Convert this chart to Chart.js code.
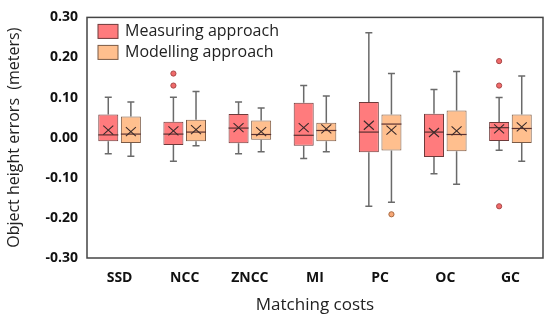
<!DOCTYPE html>
<html>
<head>
<meta charset="utf-8">
<script src="https://cdn.jsdelivr.net/npm/chart.js@4"></script>
<style>
  html, body { margin: 0; padding: 0; background: #fff; }
  #wrap { width: 550px; height: 322px; }
</style>
</head>
<body>
<div id="wrap"><canvas id="myChart" width="550" height="322"></canvas></div>
<script>
// matching costs on the x axis
var categories = ['SSD', 'NCC', 'ZNCC', 'MI', 'PC', 'OC', 'GC'];

// measuring approach (red)
var measMin    = [-0.040, -0.059, -0.040, -0.052, -0.171, -0.090, -0.031];
var measQ1     = [-0.009, -0.018, -0.014, -0.020, -0.036, -0.048, -0.008];
var measMedian = [ 0.007,  0.009,  0.024,  0.006,  0.014,  0.014,  0.025];
var measQ3     = [ 0.058,  0.040,  0.059,  0.087,  0.089,  0.060,  0.039];
var measMax    = [ 0.101,  0.101,  0.089,  0.130,  0.262,  0.120,  0.100];
var measMean   = [ 0.019,  0.017,  0.025,  0.025,  0.031,  0.013,  0.022];
var measOutliers = [[], [0.160, 0.130], [], [], [], [], [0.191, 0.130, -0.171]];

// modelling approach (orange)
var modMin    = [-0.046, -0.020, -0.035, -0.035, -0.161, -0.116, -0.059];
var modQ1     = [-0.013, -0.009, -0.005, -0.009, -0.032, -0.034, -0.013];
var modMedian = [ 0.009,  0.014,  0.008,  0.018,  0.034,  0.008,  0.023];
var modQ3     = [ 0.053,  0.045,  0.043,  0.037,  0.058,  0.068,  0.058];
var modMax    = [ 0.089,  0.115,  0.074,  0.104,  0.160,  0.165,  0.154];
var modMean   = [ 0.015,  0.020,  0.015,  0.022,  0.019,  0.017,  0.027];
var modOutliers = [[], [], [], [], [-0.191], [], []];

var yTicks = [-0.30, -0.20, -0.10, 0.00, 0.10, 0.20, 0.30];

var FONT = "'Open Sans', 'Noto Sans', sans-serif";

function boxes(q1, q3) {
  return q1.map(function (v, i) { return [v, q3[i]]; });
}

var stats = [
  { min: measMin, med: measMedian, max: measMax, mean: measMean, out: measOutliers,
    dotFill: '#f06a6a', dotLine: '#a84848' },
  { min: modMin, med: modMedian, max: modMax, mean: modMean, out: modOutliers,
    dotFill: '#f7a877', dotLine: '#a8683f' }
];

// whiskers, medians, means, outliers, frame and legend
var boxPlotPlugin = {
  id: 'boxPlot',
  afterDatasetsDraw: function (chart) {
    var ctx = chart.ctx;
    var y = chart.scales.y;
    ctx.save();
    chart.data.datasets.forEach(function (ds, di) {
      var meta = chart.getDatasetMeta(di);
      var s = stats[di];
      meta.data.forEach(function (bar, i) {
        var x = bar.x;
        var half = bar.width / 2;
        var yTop = y.getPixelForValue(ds.data[i][1]);
        var yBot = y.getPixelForValue(ds.data[i][0]);
        var yMax = y.getPixelForValue(s.max[i]);
        var yMin = y.getPixelForValue(s.min[i]);
        // whiskers
        ctx.strokeStyle = '#6a6a6a';
        ctx.lineWidth = 1.5;
        ctx.beginPath();
        ctx.moveTo(x, yTop); ctx.lineTo(x, yMax);
        ctx.moveTo(x - 3.5, yMax); ctx.lineTo(x + 3.5, yMax);
        ctx.moveTo(x, yBot); ctx.lineTo(x, yMin);
        ctx.moveTo(x - 3.5, yMin); ctx.lineTo(x + 3.5, yMin);
        ctx.stroke();
        // median
        var yMed = y.getPixelForValue(s.med[i]);
        ctx.strokeStyle = '#5a3030';
        ctx.lineWidth = 1.2;
        ctx.beginPath();
        ctx.moveTo(x - half, yMed); ctx.lineTo(x + half, yMed);
        ctx.stroke();
        // mean marker
        var yMean = y.getPixelForValue(s.mean[i]);
        ctx.strokeStyle = '#3a2a2a';
        ctx.lineWidth = 1.1;
        ctx.beginPath();
        ctx.moveTo(x - 5, yMean - 4.5); ctx.lineTo(x + 5, yMean + 4.5);
        ctx.moveTo(x - 5, yMean + 4.5); ctx.lineTo(x + 5, yMean - 4.5);
        ctx.stroke();
        // outliers
        s.out[i].forEach(function (v) {
          ctx.beginPath();
          ctx.arc(x, y.getPixelForValue(v), 2.6, 0, Math.PI * 2);
          ctx.fillStyle = s.dotFill;
          ctx.fill();
          ctx.strokeStyle = s.dotLine;
          ctx.lineWidth = 1;
          ctx.stroke();
        });
      });
    });

    // frame
    var a = chart.chartArea;
    ctx.strokeStyle = '#444';
    ctx.lineWidth = 1.5;
    ctx.strokeRect(a.left, a.top, a.right - a.left, a.bottom - a.top);

    // legend inside the plot
    ctx.font = '16px ' + FONT;
    ctx.textBaseline = 'middle';
    ctx.textAlign = 'left';
    chart.data.datasets.forEach(function (ds, di) {
      var lx = a.left + 11;
      var ly = a.top + 7 + di * 21;
      ctx.fillStyle = ds.backgroundColor;
      ctx.fillRect(lx, ly, 20, 14);
      ctx.strokeStyle = ds.borderColor;
      ctx.lineWidth = 1;
      ctx.strokeRect(lx, ly, 20, 14);
      ctx.fillStyle = '#222';
      ctx.fillText(ds.label, lx + 27, ly + 7);
    });
    ctx.restore();
  }
};

var ctx = document.getElementById('myChart');
var myChart = new Chart(ctx, {
  type: 'bar',
  data: {
    labels: categories,
    datasets: [
      {
        label: 'Measuring approach',
        data: boxes(measQ1, measQ3),
        backgroundColor: '#ff7b7d',
        borderColor: '#6e3a3a',
        borderWidth: 1,
        borderSkipped: false,
        categoryPercentage: 0.694,
        barPercentage: 0.885
      },
      {
        label: 'Modelling approach',
        data: boxes(modQ1, modQ3),
        backgroundColor: '#ffbf8e',
        borderColor: '#7a5a45',
        borderWidth: 1,
        borderSkipped: false,
        categoryPercentage: 0.694,
        barPercentage: 0.885
      }
    ]
  },
  options: {
    responsive: false,
    animation: false,
    layout: { padding: { top: 12, right: 7, left: 0, bottom: 0 } },
    plugins: {
      legend: { display: false },
      tooltip: { enabled: false }
    },
    scales: {
      x: {
        grid: { display: false, drawTicks: false },
        border: { display: false },
        ticks: {
          color: '#111',
          padding: 12,
          font: { family: FONT, size: 14, weight: 'bold' }
        },
        title: {
          display: true,
          text: 'Matching costs',
          color: '#222',
          padding: { top: 6, bottom: 7 },
          font: { family: FONT, size: 17 }
        },
        afterFit: function (scale) { scale.height = 64; }
      },
      y: {
        min: -0.3,
        max: 0.3,
        afterBuildTicks: function (scale) {
          scale.ticks = yTicks.map(function (v) { return { value: v }; });
        },
        grid: { display: false, drawTicks: false },
        border: { display: false },
        ticks: {
          color: '#111',
          padding: 9,
          font: { family: FONT, size: 14, weight: 'bold' },
          callback: function (v) { return Number(v).toFixed(2); }
        },
        title: {
          display: true,
          text: 'Object height errors  (meters)',
          color: '#222',
          padding: { top: 5, bottom: 0 },
          font: { family: FONT, size: 16 }
        },
        afterFit: function (scale) { scale.width = 87; }
      }
    }
  },
  plugins: [boxPlotPlugin]
});
</script>
</body>
</html>
